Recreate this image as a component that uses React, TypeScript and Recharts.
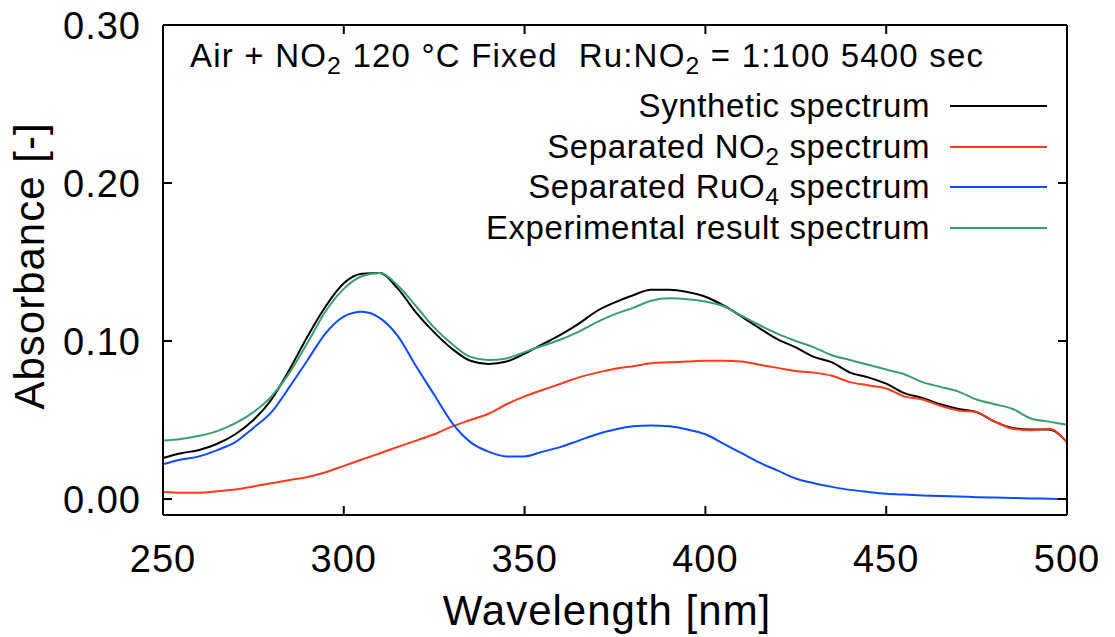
import React from 'react'
import { LineChart, Line, XAxis, YAxis, Legend, Label } from 'recharts'

// wavelength grid [nm], every 5 nm
const WAVELENGTH = [
  250, 255, 260, 265, 270, 275, 280, 285, 290, 295,
  300, 305, 310, 315, 320, 325, 330, 335, 340, 345,
  350, 355, 360, 365, 370, 375, 380, 385, 390, 395,
  400, 405, 410, 415, 420, 425, 430, 435, 440, 445,
  450, 455, 460, 465, 470, 475, 480, 485, 490, 495,
  500,
]

const SYNTHETIC = [
  0.026, 0.029, 0.031, 0.035, 0.041, 0.05, 0.063, 0.082, 0.103, 0.122,
  0.1365, 0.1425, 0.143, 0.133, 0.118, 0.1055, 0.095, 0.0875, 0.0855, 0.087,
  0.092, 0.098, 0.104, 0.111, 0.119, 0.1245, 0.129, 0.1325, 0.1325, 0.131,
  0.128, 0.1225, 0.1155, 0.108, 0.101, 0.096, 0.09, 0.0865, 0.08, 0.077,
  0.073, 0.067, 0.064, 0.06, 0.057, 0.055, 0.049, 0.045, 0.044, 0.044,
  0.036,
]

const NO2_SEPARATED = [
  0.0045, 0.004, 0.004, 0.005, 0.006, 0.008, 0.01, 0.012, 0.014, 0.017,
  0.021, 0.025, 0.029, 0.033, 0.037, 0.041, 0.046, 0.05, 0.054, 0.06,
  0.065, 0.069, 0.073, 0.077, 0.08, 0.0825, 0.084, 0.086, 0.0865, 0.087,
  0.0875, 0.0875, 0.087, 0.085, 0.083, 0.081, 0.08, 0.078, 0.074, 0.072,
  0.07, 0.065, 0.063, 0.059, 0.056, 0.055, 0.049, 0.0445, 0.0435, 0.0445,
  0.036,
]

const RUO4_SEPARATED = [
  0.022, 0.025, 0.027, 0.031, 0.036, 0.045, 0.055, 0.071, 0.088, 0.105,
  0.1155, 0.1185, 0.1145, 0.103, 0.084, 0.066, 0.048, 0.036, 0.03, 0.027,
  0.027, 0.03, 0.033, 0.037, 0.041, 0.044, 0.046, 0.0465, 0.046, 0.044,
  0.041, 0.035, 0.029, 0.023, 0.018, 0.013, 0.01, 0.0077, 0.0058, 0.0045,
  0.0034, 0.0028, 0.0023, 0.0019, 0.0016, 0.0012, 0.0009, 0.0007, 0.0004, 0.0002,
  0.0,
]

const EXPERIMENTAL = [
  0.037, 0.038, 0.04, 0.043, 0.048, 0.055, 0.065, 0.08, 0.099, 0.119,
  0.133, 0.141, 0.143, 0.135, 0.122, 0.1085, 0.098, 0.09, 0.088, 0.089,
  0.093, 0.097, 0.101, 0.106, 0.112, 0.117, 0.121, 0.1255, 0.127, 0.1265,
  0.125, 0.122, 0.116, 0.11, 0.1045, 0.1, 0.096, 0.091, 0.088, 0.085,
  0.082, 0.079, 0.074, 0.071, 0.068, 0.063, 0.06, 0.057, 0.051, 0.049,
  0.047,
]

const X_TICKS = [250, 300, 350, 400, 450, 500]
const Y_TICKS = [0, 0.1, 0.2, 0.3]

const data = WAVELENGTH.map((wl, i) => ({
  wl,
  synthetic: SYNTHETIC[i],
  no2: NO2_SEPARATED[i],
  ruo4: RUO4_SEPARATED[i],
  experimental: EXPERIMENTAL[i],
}))

const FONT = 'Arial, "Liberation Sans", Helvetica, sans-serif'
const TICK_LEN = 9

const SERIES = [
  { key: 'synthetic', color: '#000000' },
  { key: 'no2', color: '#ff3a1c' },
  { key: 'ruo4', color: '#0b4cff' },
  { key: 'experimental', color: '#3a9f6e' },
]

const sub = (t: string) => (
  <span style={{ fontSize: '0.75em', position: 'relative', top: '0.3em', lineHeight: 0 }}>{t}</span>
)

const LEGEND_LABELS: Record<string, React.ReactNode> = {
  synthetic: <>Synthetic spectrum</>,
  no2: <>Separated NO{sub('2')} spectrum</>,
  ruo4: <>Separated RuO{sub('4')} spectrum</>,
  experimental: <>Experimental result spectrum</>,
}

const BottomTick = ({ x, y, payload }: any) => (
  <g>
    <line x1={x} x2={x} y1={y} y2={y - TICK_LEN} stroke="#000" strokeWidth={2} />
    <text x={x} y={y + 57} textAnchor="middle" fontSize={38} letterSpacing={1} fontFamily={FONT} fill="#000">
      {payload.value}
    </text>
  </g>
)

const TopTick = ({ x, y }: any) => (
  <line x1={x} x2={x} y1={y} y2={y + TICK_LEN} stroke="#000" strokeWidth={2} />
)

const LeftTick = ({ x, y, payload }: any) => (
  <g>
    <line x1={x} x2={x + TICK_LEN} y1={y} y2={y} stroke="#000" strokeWidth={2} />
    <text x={x - 22} y={y + 14} textAnchor="end" fontSize={38} letterSpacing={1} fontFamily={FONT} fill="#000">
      {payload.value.toFixed(2)}
    </text>
  </g>
)

const RightTick = ({ x, y }: any) => (
  <line x1={x} x2={x - TICK_LEN} y1={y} y2={y} stroke="#000" strokeWidth={2} />
)

const Overlay = () => (
  <div style={{ position: 'relative', width: 1115, height: 637, fontFamily: FONT, color: '#000' }}>
    <div style={{ position: 'absolute', left: 190, top: 38, fontSize: 33, letterSpacing: 1.2, whiteSpace: 'nowrap', lineHeight: '36px' }}>
      Air + NO{sub('2')} 120 °C Fixed&nbsp; Ru:NO{sub('2')} = 1:100 5400 sec
    </div>
    {SERIES.map((s, i) => (
      <div key={s.key} style={{ position: 'absolute', right: 1115 - 1047, top: 86 + i * 40.5, height: 40, display: 'flex', alignItems: 'center', whiteSpace: 'nowrap' }}>
        <span style={{ fontSize: 33, letterSpacing: 0.6, lineHeight: '40px' }}>{LEGEND_LABELS[s.key]}</span>
        <span style={{ display: 'inline-block', width: 97, height: 2, background: s.color, marginLeft: 20 }} />
      </div>
    ))}
  </div>
)

export default function App() {
  return (
    <div>
      <style>{'body{margin:0}'}</style>
      <LineChart width={1115} height={637} data={data} margin={{ top: 24, right: 47, bottom: 0, left: 0 }}>
        <XAxis
          xAxisId="wl"
          dataKey="wl"
          type="number"
          domain={[250, 500]}
          ticks={X_TICKS}
          height={122}
          tickSize={0}
          tickMargin={0}
          tickLine={false}
          tick={BottomTick}
          axisLine={{ stroke: '#000', strokeWidth: 2 }}
        >
          <Label
            content={({ viewBox }: any) => (
              <text x={viewBox.x + viewBox.width / 2 - 8} y={viewBox.y + 110} textAnchor="middle" fontSize={42} letterSpacing={1} fontFamily={FONT} fill="#000">
                Wavelength [nm]
              </text>
            )}
          />
        </XAxis>
        <XAxis
          xAxisId="top"
          dataKey="wl"
          type="number"
          orientation="top"
          domain={[250, 500]}
          ticks={X_TICKS}
          height={1}
          tickSize={0}
          tickMargin={0}
          tickLine={false}
          tick={TopTick}
          axisLine={{ stroke: '#000', strokeWidth: 2 }}
        />
        <YAxis
          yAxisId="abs"
          type="number"
          domain={[-0.0101, 0.3]}
          allowDataOverflow
          ticks={Y_TICKS}
          width={163}
          tickSize={0}
          tickMargin={0}
          tickLine={false}
          tick={LeftTick}
          axisLine={{ stroke: '#000', strokeWidth: 2 }}
        >
          <Label
            content={({ viewBox }: any) => {
              const cx = 44
              const cy = viewBox.y + viewBox.height / 2 - 4
              return (
                <text x={cx} y={cy} transform={`rotate(-90 ${cx} ${cy})`} textAnchor="middle" fontSize={42} letterSpacing={1} fontFamily={FONT} fill="#000">
                  Absorbance [-]
                </text>
              )
            }}
          />
        </YAxis>
        <YAxis
          yAxisId="mirror"
          orientation="right"
          type="number"
          domain={[-0.0101, 0.3]}
          allowDataOverflow
          ticks={Y_TICKS}
          width={1}
          tickSize={0}
          tickMargin={0}
          tickLine={false}
          tick={RightTick}
          axisLine={{ stroke: '#000', strokeWidth: 2 }}
        />
        {SERIES.map((s) => (
          <Line
            key={s.key}
            xAxisId="wl"
            yAxisId="abs"
            type="monotone"
            dataKey={s.key}
            stroke={s.color}
            strokeWidth={2}
            dot={false}
            isAnimationActive={false}
          />
        ))}
        <Legend
          layout="vertical"
          align="center"
          verticalAlign="middle"
          wrapperStyle={{ left: 0, top: 0, width: 1115, height: 637, pointerEvents: 'none' }}
          content={() => <Overlay />}
        />
      </LineChart>
    </div>
  )
}
